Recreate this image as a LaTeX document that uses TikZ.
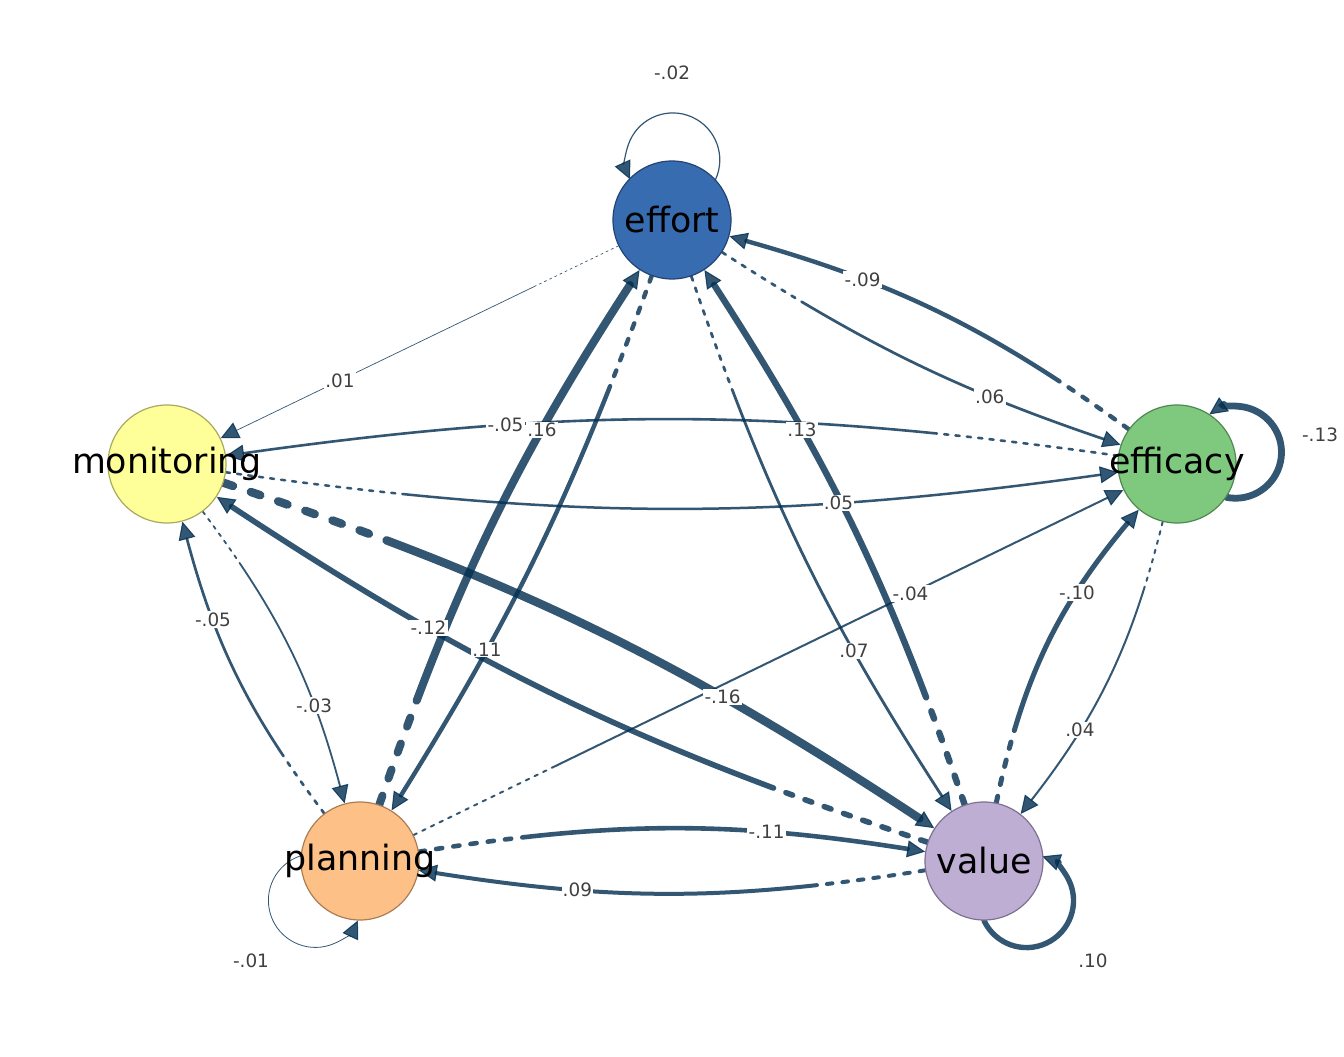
\documentclass[tikz,border=0pt]{standalone}
\usepackage{fontspec}
\setmainfont{DejaVu Sans}
\usetikzlibrary{arrows.meta}
\pgfdeclarelayer{bg}
\pgfsetlayers{bg,main}
\definecolor{ecol}{RGB}{0,46,80}
\definecolor{lcol}{RGB}{64,64,64}
\definecolor{effcol}{RGB}{56,108,176}\definecolor{effbd}{RGB}{35,68,115}
\definecolor{moncol}{RGB}{255,255,153}\definecolor{monbd}{RGB}{168,168,96}
\definecolor{efccol}{RGB}{127,201,127}\definecolor{efcbd}{RGB}{80,135,80}
\definecolor{plncol}{RGB}{253,192,134}\definecolor{plnbd}{RGB}{170,125,85}
\definecolor{valcol}{RGB}{190,174,212}\definecolor{valbd}{RGB}{125,112,145}
\newcount\dcnt
\newcommand\buildpat[3]{%
  \def\mydp{}\dcnt=0\relax
  \loop\ifnum\dcnt<#1\relax
    \edef\mydp{\mydp on #2pt off #3pt }%
    \advance\dcnt by 1\relax
  \repeat
  \edef\mydp{\mydp on 3000pt off 10pt}}
\tikzset{
  srcd/.code 2 args={%
    \pgfmathsetmacro\elw{#1}%
    \pgfmathsetmacro\eon{\elw+0.8}%
    \pgfmathsetmacro\eoff{2*\elw+1.0}%
    \pgfmathtruncatemacro\ereps{max(1,round((#2)/2/(3*\elw+1.8)))}%
    \buildpat{\ereps}{\eon}{\eoff}%
    \pgfkeysalso{/tikz/line width=\elw pt,/tikz/dash pattern/.expanded={\mydp}}%
  },
  lnk/.style={draw=ecol, opacity=0.8, line cap=round,
    -{Triangle[length=9pt,width=8.5pt,line width=0.5pt]}},
  elab/.style={font=\fontsize{9.2pt}{11pt}\selectfont, text=lcol, fill=white, inner sep=0.6pt},
  nd/.style={circle, minimum size=59pt, inner sep=0pt, line width=0.6pt,
    font=\fontsize{17.4pt}{20pt}\selectfont, text=black},
}
\begin{document}
\begin{tikzpicture}[x=0.5pt,y=0.5pt]
\useasboundingbox (0,0) rectangle (1344,1056);
\node[nd, fill=effcol, draw=effbd] (effort) at (672,836) {\makebox[0pt]{effort}};
\node[nd, fill=moncol, draw=monbd] (monitoring) at (167,592) {\makebox[0pt]{monitoring}};
\node[nd, fill=efccol, draw=efcbd] (efficacy) at (1177,592) {\makebox[0pt]{efficacy}};
\node[nd, fill=plncol, draw=plnbd] (planning) at (360,195) {\makebox[0pt]{planning}};
\node[nd, fill=valcol, draw=valbd] (value) at (984,195) {\makebox[0pt]{value}};
\begin{pgfonlayer}{bg}
\fill[white] (0,0) rectangle (1344,1056);
% self loops
\draw[lnk, line width=0.6pt] (effort.43) arc[start angle=-24.4, end angle=204.4, radius=23.5pt];
\draw[lnk, line width=3.4pt] (efficacy.-34) arc[start angle=258.6, end angle=484.8, radius=23pt];
\draw[lnk, line width=0.4pt] (planning.175) arc[start angle=108.3, end angle=334.9, radius=23.5pt];
\draw[lnk, line width=2.7pt] (value.-90) arc[start angle=205.2, end angle=430.4, radius=23.5pt];
% edges
\draw[lnk, srcd={0.35}{89}] (effort) -- coordinate[pos=0.7] (c1) (monitoring);
\draw[lnk, srcd={2.2}{90}] (efficacy) to[bend right=10] coordinate[pos=0.7] (c2) (effort);
\draw[lnk, srcd={1.35}{90}] (effort) to[bend right=7] coordinate[pos=0.7] (c3) (efficacy);
\draw[lnk, srcd={1.3}{180}] (efficacy) to[bend right=8] coordinate[pos=0.7] (c4) (monitoring);
\draw[lnk, srcd={1.25}{180}] (monitoring) to[bend right=8] coordinate[pos=0.7] (c5) (efficacy);
\draw[lnk, srcd={4}{120}] (planning) to[bend left=7] coordinate[pos=0.7] (c6) (effort);
\draw[lnk, srcd={2.2}{120}] (effort) to[bend left=6] coordinate[pos=0.7] (c7) (planning);
\draw[lnk, srcd={3.2}{120}] (value) to[bend right=7] coordinate[pos=0.7] (c8) (effort);
\draw[lnk, srcd={1.4}{120}] (effort) to[bend right=7] coordinate[pos=0.7] (c9) (value);
\draw[lnk, srcd={1}{158}] (planning) -- coordinate[pos=0.7] (c10) (efficacy);
\draw[lnk, srcd={2.5}{66}] (value) to[bend left=14] coordinate[pos=0.7] (c11) (efficacy);
\draw[lnk, srcd={1}{66}] (efficacy) to[bend left=12] coordinate[pos=0.7] (c12) (value);
\draw[lnk, srcd={4.2}{160}] (monitoring) to[bend left=7.5] coordinate[pos=0.7] (c13) (value);
\draw[lnk, srcd={2.8}{160}] (value) to[bend left=7.5] coordinate[pos=0.7] (c14) (monitoring);
\draw[lnk, srcd={0.9}{66}] (monitoring) to[bend left=11] coordinate[pos=0.7] (c15) (planning);
\draw[lnk, srcd={1.35}{66}] (planning) to[bend left=11] coordinate[pos=0.7] (c16) (monitoring);
\draw[lnk, srcd={2.3}{102}] (planning) to[bend left=9] coordinate[pos=0.7] (c17) (value);
\draw[lnk, srcd={2}{102}] (value) to[bend left=9] coordinate[pos=0.7] (c18) (planning);
\end{pgfonlayer}
% edge labels
\node[elab] (l1) at (c1) {.01};
\node[elab] (l2) at (c2) {-.09};
\node[elab] (l3) at (c3) {.06};
\node[elab] (l4) at (c4) {-.05};
\node[elab] (l5) at (c5) {.05};
\node[elab] (l6) at (c6) {.16};
\node[elab] (l7) at (c7) {.11};
\node[elab] (l8) at (c8) {.13};
\node[elab] (l9) at (c9) {.07};
\node[elab] (l10) at (c10) {-.04};
\node[elab] (l11) at (c11) {-.10};
\node[elab] (l12) at (c12) {.04};
\node[elab] (l13) at (c13) {-.16};
\node[elab] (l14) at (c14) {-.12};
\node[elab] (l15) at (c15) {-.03};
\node[elab] (l16) at (c16) {-.05};
\node[elab] (l17) at (c17) {-.11};
\node[elab] (l18) at (c18) {.09};
\node[elab] (le) at (672,983) {-.02};
\node[elab] (lf) at (1320,621) {-.13};
\node[elab] (lp) at (251,95) {-.01};
\node[elab] (lv) at (1093,95) {.10};
\end{tikzpicture}
\end{document}
